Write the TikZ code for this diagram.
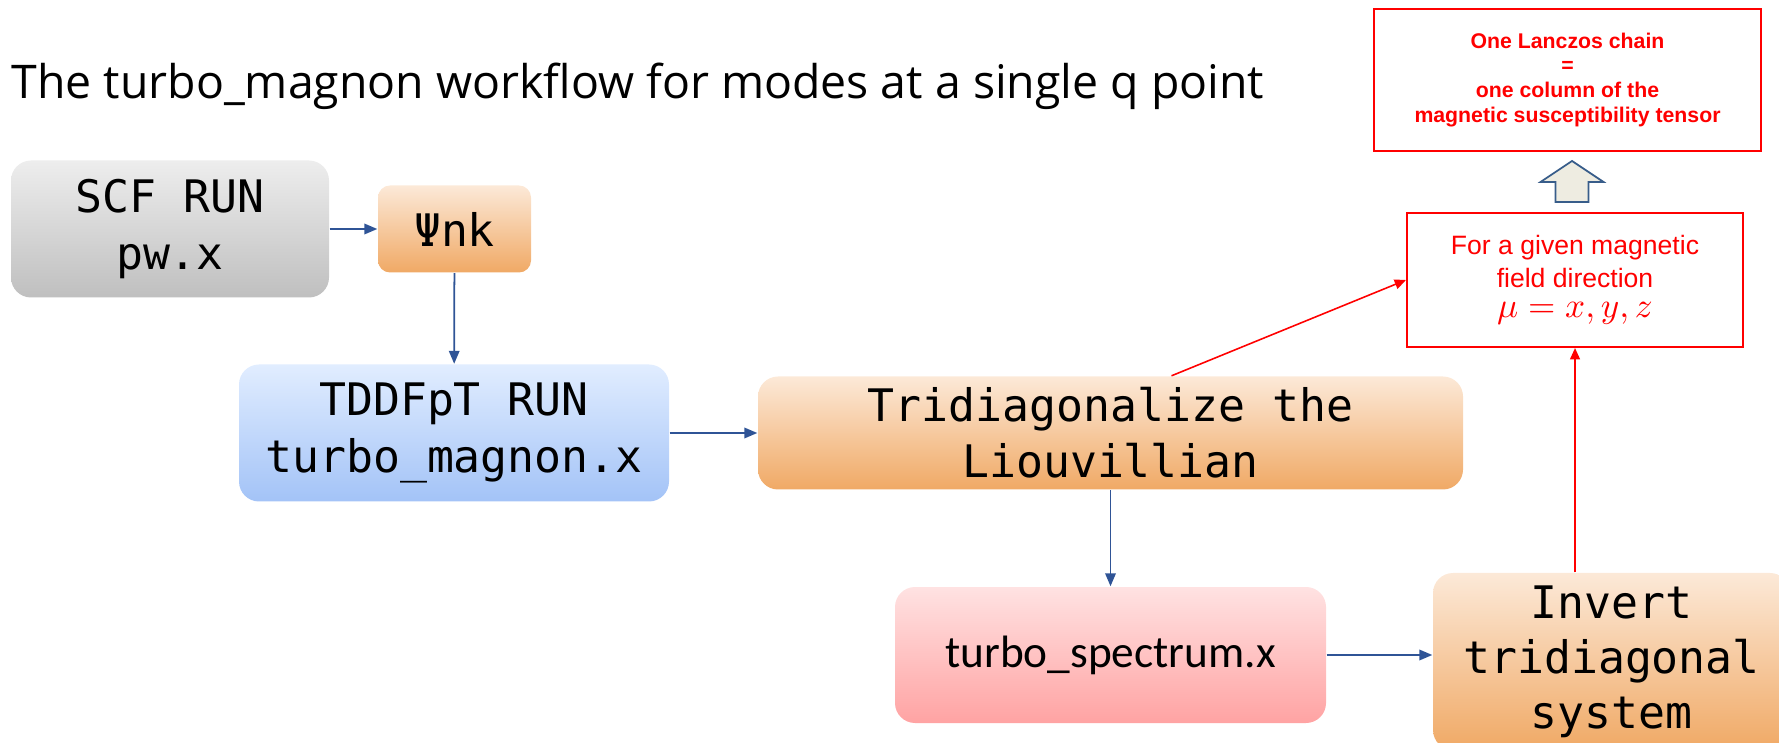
\documentclass[tikz,border=0pt]{standalone}
\usepackage{fontspec}
\usetikzlibrary{arrows.meta}
\newfontfamily\codefont{DejaVu Sans Mono}
\newfontfamily\headfont{Open Sans}
\newfontfamily\notefont{Liberation Sans}
\newfontfamily\progfont{Carlito}
\definecolor{flowblue}{HTML}{2F5496}
\definecolor{noteRed}{HTML}{FF0000}
\definecolor{blockfill}{HTML}{EEECE1}
\definecolor{blockline}{HTML}{385D8A}
\begin{document}
\begin{tikzpicture}[shorten <=0pt]
	\def \toprow{5.13cm}
	\def \midrow{3.09cm}
	\def \lowrow{0.87cm}
	\tikzstyle{box}=[rounded corners=0.2cm,align=center,inner sep=2pt,font=\codefont\fontsize{12.75}{16}\selectfont]
	\tikzstyle{gray-node}=[box,top color=black!7,bottom color=black!25]
	\tikzstyle{orange-node}=[box,top color={rgb,255:red,252;green,233;blue,216},bottom color={rgb,255:red,240;green,169;blue,101}]
	\tikzstyle{blue-node}=[box,top color={rgb,255:red,225;green,237;blue,255},bottom color={rgb,255:red,163;green,195;blue,247}]
	\tikzstyle{pink-node}=[box,top color={rgb,255:red,255;green,226;blue,226},bottom color={rgb,255:red,255;green,163;blue,163}]
	\tikzstyle{note}=[draw=noteRed,line width=0.6pt,text=noteRed,align=center,inner sep=2pt]
	\tikzstyle{flow}=[-{Triangle[length=3.7pt,width=3pt]},draw=flowblue,line width=0.5pt]
	\tikzstyle{redflow}=[-{Triangle[length=3.2pt,width=2.8pt]},draw=noteRed,line width=0.45pt]
	\useasboundingbox (0,0) rectangle (17.79,7.42);

	% title
	\node[anchor=west,inner sep=0pt,font=\headfont\fontsize{13.2}{16}\selectfont] (title) at (0.11cm,6.56cm) {The turbo\_magnon workflow for modes at a single q point};

	% ground state
	\node[gray-node,minimum width=3.18cm,minimum height=1.37cm] 	(scf)	at (1.70cm,\toprow)	{SCF RUN\\pw.x};
	\node[orange-node,rounded corners=0.12cm,minimum width=1.53cm,minimum height=0.87cm] 	(psi)	at (4.545cm,\toprow)	{Ψnk};

	% Lanczos part
	\node[blue-node,minimum width=4.30cm,minimum height=1.37cm] 	(tddfpt)	at (4.54cm,\midrow)	{TDDFpT RUN\\turbo\_magnon.x};
	\node[orange-node,minimum width=7.05cm,minimum height=1.13cm] 	(tridiag)	at (11.105cm,\midrow)	{Tridiagonalize the\\Liouvillian};

	% post-processing
	\node[pink-node,minimum width=4.31cm,minimum height=1.36cm,font=\progfont\fontsize{12.9}{16}\selectfont] 	(spectrum)	at (11.105cm,\lowrow)	{turbo\_spectrum.x};
	\node[orange-node,minimum width=3.57cm,minimum height=1.77cm,font=\codefont\fontsize{12.75}{15.6}\selectfont] 	(invert)	at (16.115cm,0.805cm)	{Invert\\tridiagonal\\system};

	% remarks
	\node[note,minimum width=3.36cm,minimum height=1.34cm,font=\notefont\fontsize{7.56}{9.4}\selectfont] 	(field)	at (15.75cm,4.62cm)	{For a given magnetic\\field direction\\[-1pt]{\fontsize{9.9}{11}\selectfont$\mu = x, y, z$}};
	\node[note,minimum width=3.87cm,minimum height=1.42cm,font=\notefont\bfseries\fontsize{6.05}{7.1}\selectfont] 	(chain)	at (15.675cm,6.62cm)	{One Lanczos chain\\=\\one column of the\\magnetic susceptibility tensor};
	\coordinate (kick) at ([xshift=0.61cm]tridiag.north);

	\path
		(scf)	edge[flow]	(psi)
		(psi)	edge[flow]	(tddfpt)
		(tddfpt)	edge[flow]	(tridiag)
		(tridiag)	edge[flow]	(spectrum)
		(spectrum.east)	edge[flow]	(spectrum.east -| invert.west)
		(invert.north -| field.south)	edge[redflow]	(field.south)
		(kick)	edge[redflow]	(field.west);

	% block arrow between the remarks
	\draw[fill=blockfill,draw=blockline,line width=0.5pt] (15.555,5.40) -- (15.555,5.60) -- (15.405,5.60) -- (15.72,5.81)
		-- (16.035,5.60) -- (15.885,5.60) -- (15.885,5.40) -- cycle;
\end{tikzpicture}
\end{document}
